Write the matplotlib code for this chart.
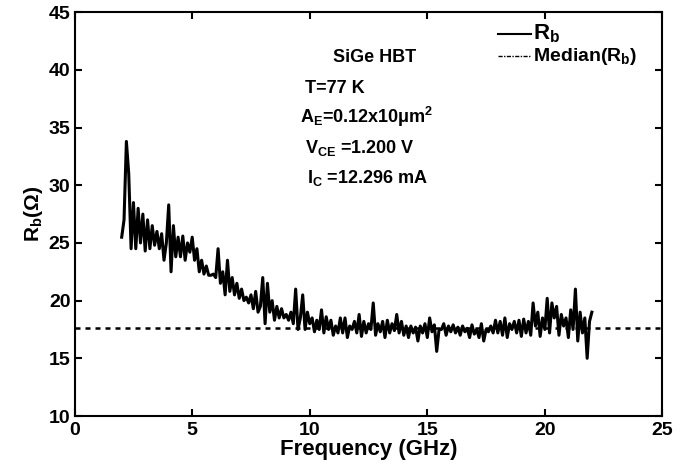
import matplotlib
matplotlib.use('Agg')
import matplotlib.pyplot as plt
import numpy as np

plt.rcParams['font.family'] = ['Liberation Sans', 'DejaVu Sans']
plt.rcParams['font.weight'] = 'bold'
plt.rcParams['axes.labelweight'] = 'bold'

# frequency (GHz) and extracted base resistance (ohm)
freq = np.round(np.arange(2.0, 22.01, 0.1), 2)
rb = [
    25.5, 27.0, 33.8, 31.0, 24.5, 28.5, 24.5, 28.0, 25.0, 27.5,
    24.3, 27.0, 24.5, 26.5, 24.8, 26.0, 24.5, 25.8, 23.5, 25.0,
    28.3, 22.5, 26.5, 23.8, 25.5, 23.8, 25.6, 23.5, 25.0, 24.2,
    25.5, 23.5, 24.5, 22.5, 23.5, 22.3, 23.0, 22.2, 22.2, 22.3,
    22.0, 24.5, 21.5, 22.5, 20.5, 23.5, 20.8, 22.0, 20.5, 21.5,
    20.2, 21.0, 20.0, 20.3, 19.8, 20.5, 19.3, 20.8, 19.0, 19.5,
    22.0, 18.0, 21.5, 19.0, 20.0, 18.3, 19.5, 18.5, 19.3, 18.5,
    18.8, 18.3, 19.0, 18.0, 21.0, 17.5, 18.5, 20.5, 17.5, 19.0,
    18.0, 18.5, 17.3, 18.3, 17.5, 19.2, 17.2, 18.6, 17.5, 18.3,
    17.0, 17.8, 17.2, 18.5, 17.2, 18.5, 16.8, 17.8, 17.5, 18.2,
    17.2, 18.8, 16.9, 18.2, 17.2, 18.0, 17.5, 19.8, 17.0, 18.0,
    17.3, 18.2, 16.8, 18.3, 17.2, 18.0, 17.4, 18.8, 17.2, 18.2,
    17.0, 17.8, 16.8, 17.8, 17.2, 17.7, 16.5, 17.8, 17.2, 18.0,
    16.8, 18.5, 17.3, 17.9, 15.6, 17.5, 17.5, 18.0, 17.0, 17.8,
    17.3, 17.9, 17.2, 17.7, 17.0, 17.8, 17.3, 17.6, 16.8, 17.9,
    17.1, 17.5, 16.8, 18.0, 16.5, 17.5, 17.3, 17.8, 17.2, 18.3,
    17.2, 18.2, 17.0, 18.5, 16.8, 18.0, 17.5, 18.2, 17.2, 18.3,
    16.9, 18.4, 17.2, 18.2, 17.0, 19.8, 17.8, 19.0, 16.9, 18.5,
    17.5, 20.2, 17.2, 19.8, 18.5, 19.5, 17.0, 18.8, 17.8, 18.5,
    16.8, 19.2, 17.5, 21.0, 16.5, 19.0, 17.2, 18.5, 15.0, 18.2,
    19.0,
]
rb_median = 17.6

xticks = [0, 5, 10, 15, 20, 25]
yticks = [10, 15, 20, 25, 30, 35, 40, 45]

fig = plt.figure(figsize=(6.85, 4.69), dpi=100)
ax = fig.add_axes([0.109, 0.113, 0.858, 0.861])

ax.plot(freq, rb, color='black', linewidth=2.2, label=r'R$_\mathregular{b}$')
ax.plot([0, 25], [rb_median, rb_median], color='black', linewidth=1.8,
        linestyle=(0, (2, 2)), label=r'Median(R$_\mathregular{b}$)')

ax.set_xlim(0, 25)
ax.set_ylim(10, 45)
ax.set_xticks(xticks)
ax.set_yticks(yticks)
ax.tick_params(direction='in', top=True, right=True, length=5, width=1.5,
               labelsize=14)
ax.tick_params(axis='x', pad=4)
ax.tick_params(axis='y', pad=3)
for s in ax.spines.values():
    s.set_linewidth(1.5)

ax.set_xlabel('Frequency (GHz)', fontsize=16, labelpad=0)
ax.set_ylabel(r'R$_\mathregular{b}$(Ω)', fontsize=15, labelpad=3)

fs = 13
ax.text(12.75, 41.1, 'SiGe HBT', fontsize=fs, ha='center', va='center')
ax.text(9.8, 38.4, 'T=77 K', fontsize=fs, va='center')
ax.text(9.6, 35.9, r'A$_\mathregular{E}$=0.12x10μm$^\mathregular{2}$',
        fontsize=fs, va='center')
ax.text(9.8, 33.2, r'V$_\mathregular{CE}$ =1.200 V', fontsize=fs, va='center')
ax.text(9.9, 30.6, r'I$_\mathregular{C}$ =12.296 mA', fontsize=fs, va='center')

leg = ax.legend(loc='upper left', bbox_to_anchor=(0.72, 0.975), frameon=False,
                handlelength=2.4, handletextpad=0.1, labelspacing=0.1,
                borderpad=0, borderaxespad=0)
leg.get_texts()[0].set_fontsize(16)
leg.get_texts()[1].set_fontsize(14)
leg.get_lines()[0].set_linewidth(1.5)
leg.get_lines()[1].set_linewidth(1.0)
leg.get_lines()[1].set_linestyle((0, (3, 1, 1, 1)))

fig.savefig('out.png', dpi=100)
